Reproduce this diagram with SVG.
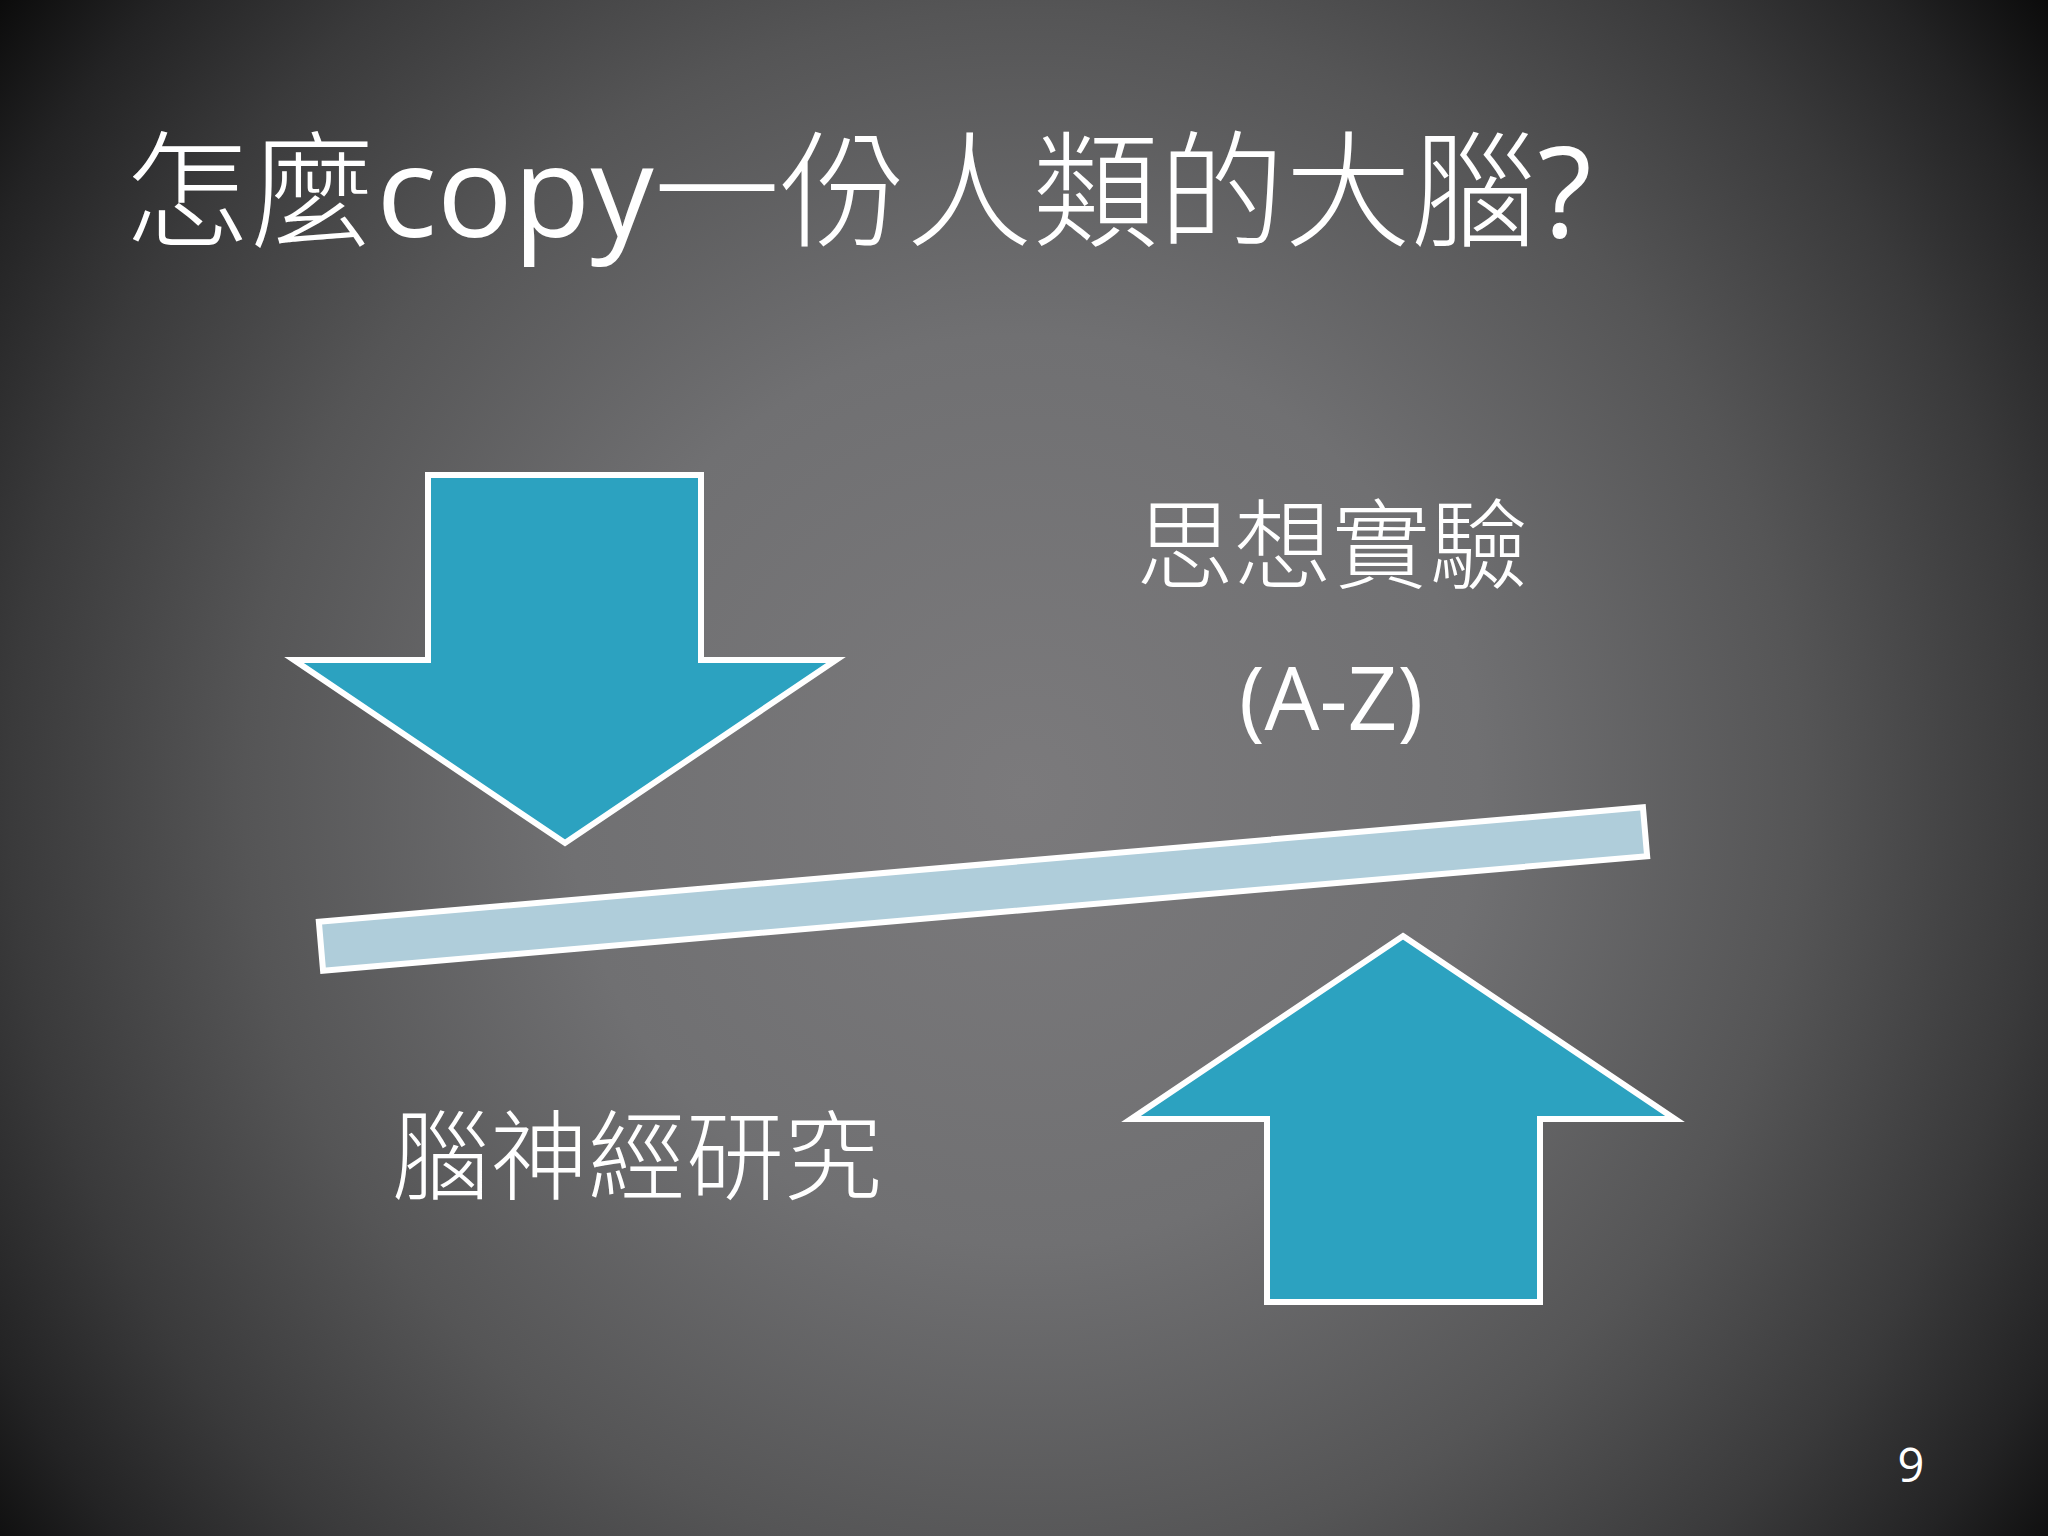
<svg xmlns="http://www.w3.org/2000/svg" width="2048" height="1536" viewBox="0 0 2048 1536">
  <defs>
    <radialGradient id="bg" gradientUnits="userSpaceOnUse" cx="1024" cy="790" r="1300">
      <stop offset="0" stop-color="#7b7a7c"/>
      <stop offset="0.35" stop-color="#707072"/>
      <stop offset="0.6" stop-color="#555556"/>
      <stop offset="0.78" stop-color="#3a3a3b"/>
      <stop offset="0.9" stop-color="#232324"/>
      <stop offset="1" stop-color="#0a0a0a"/>
    </radialGradient>
    <style>
      .arrow { fill: #2ca2c0; stroke: #ffffff; stroke-width: 6; stroke-linejoin: miter; stroke-miterlimit: 10; }
      .bar { fill: #afcdda; stroke: #ffffff; stroke-width: 6; }
      .cjk { fill: #ffffff; font-family: "Noto Sans CJK TC", "Noto Sans CJK SC", sans-serif; font-weight: 300; }
      .lat { fill: #ffffff; font-family: "Open Sans", "Noto Sans", "Noto Sans CJK TC", sans-serif; }
    </style>
  </defs>

  <rect x="0" y="0" width="2048" height="1536" fill="url(#bg)"/>

  <g id="title">
    <text class="lat" x="124" y="237" font-size="126" textLength="1468" lengthAdjust="spacing"><tspan class="cjk">怎麼</tspan>copy<tspan class="cjk">一份人類的大腦</tspan>?</text>
  </g>

  <g id="arrow-down">
    <polygon class="arrow" points="428,475 701,475 701,660 836,660 565,843 294,660 428,660"/>
  </g>

  <g id="arrow-up">
    <polygon class="arrow" points="1403,936 1675,1119 1540,1119 1540,1302 1267,1302 1267,1119 1131,1119"/>
  </g>

  <g id="bar">
    <rect class="bar" x="-664.5" y="-24.5" width="1329" height="49" transform="translate(983,889) rotate(-4.94)"/>
  </g>

  <g id="label-thought">
    <text class="cjk" x="1332" y="581" font-size="98" text-anchor="middle">思想實驗</text>
    <text class="lat" x="1331" y="730" font-size="87" text-anchor="middle">(A-Z)</text>
  </g>

  <g id="label-neuro">
    <text class="cjk" x="637" y="1192" font-size="98" text-anchor="middle">腦神經研究</text>
  </g>

  <g id="page-number">
    <text class="lat" x="1911" y="1482" font-size="47" text-anchor="middle">9</text>
  </g>

  <g id="connectors"/>
</svg>
